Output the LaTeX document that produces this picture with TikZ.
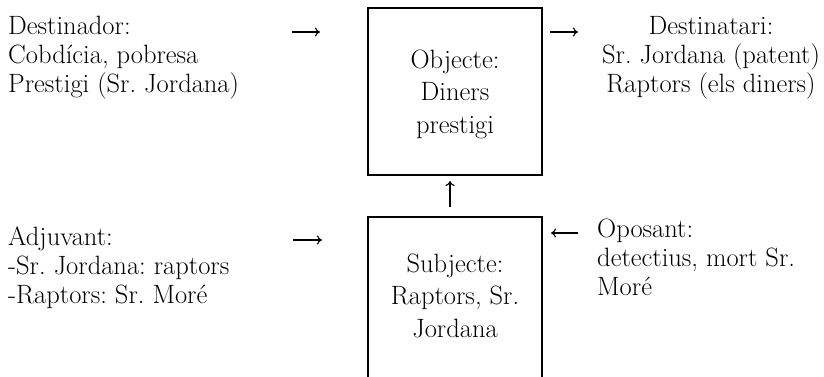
\documentclass[tikz,border=0pt]{standalone}
\usetikzlibrary{arrows.meta}
\frenchspacing
\begin{document}
\frenchspacing
\begin{tikzpicture}[x=1pt,y=-1pt,
  txt/.style={inner sep=0pt, font=\fontsize{26.5}{29}\selectfont},
  boxtxt/.style={inner sep=0pt, align=center, anchor=base, font=\fontsize{26.5}{32.5}\selectfont},
  boxnode/.style={draw, line width=2pt, minimum width=174pt, inner sep=0pt},
  arr/.style={-{To[length=5pt,width=9pt]}, line width=1.1pt}]
\useasboundingbox (0,0) rectangle (824,377);
\clip (0,0) rectangle (824,377);
% boxes
\node[boxnode, minimum height=167pt] (obj) at (455,91.5) {};
\node[boxnode, minimum height=220pt] (subj) at (455,327) {};
% box texts (anchor base = last line)
\node[boxtxt] (objt) at (455,133) {Objecte:\\Diners\\prestigi};
\node[boxtxt] (subjt) at (455,337) {Subjecte:\\Raptors, Sr.\\Jordana};
% side texts (anchor base = last line)
\node[txt, align=left, anchor=base west] (dor) at (8,93) {Destinador:\\Cobdícia, pobresa\\Prestigi (Sr. Jordana)};
\node[txt, align=center, anchor=base] (tari) at (711,93) {Destinatari:\\Sr. Jordana (patent)\\Raptors (els diners)};
\node[txt, align=left, anchor=base west] (adj) at (8,303) {Adjuvant:\\-Sr. Jordana: raptors\\-Raptors: Sr. Moré};
\node[txt, align=left, anchor=base west] (opo) at (597,295) {Oposant:\\detectius, mort Sr.\\Moré};
% arrows
\coordinate (a1s) at (292,32); \coordinate (a1e) at (320,32);
\coordinate (a2s) at (550,32); \coordinate (a2e) at (578,32);
\coordinate (a3s) at (293,240); \coordinate (a3e) at (322,240);
\coordinate (a4s) at (578,233); \coordinate (a4e) at (551,233);
\draw[arr] (a1s) -- (a1e);
\draw[arr] (a2s) -- (a2e);
\draw[arr] (a3s) -- (a3e);
\draw[arr] (a4s) -- (a4e);
\draw[arr, shorten <=9pt, shorten >=5pt] (subj.north -| 450,0) -- (obj.south -| 450,0);
\end{tikzpicture}
\end{document}
